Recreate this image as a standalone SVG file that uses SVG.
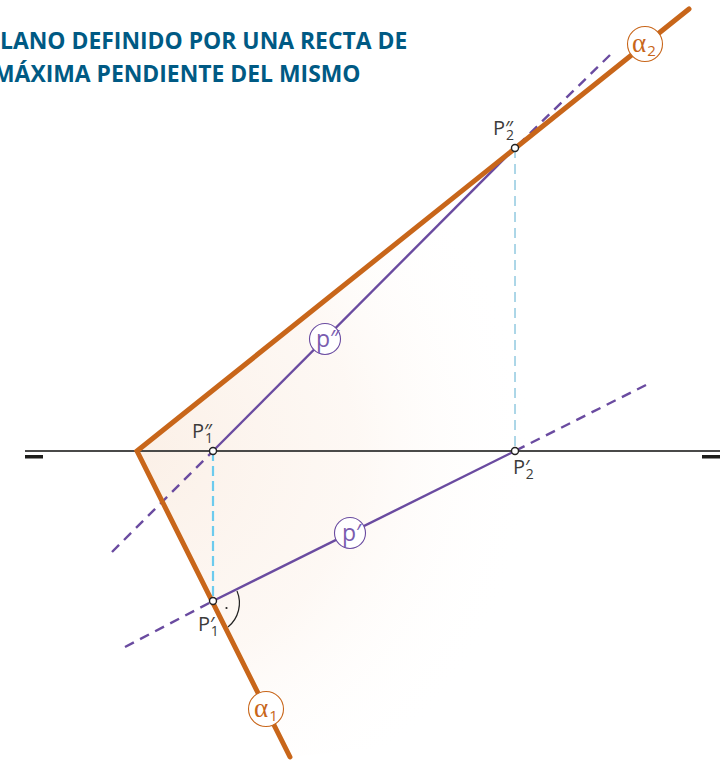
<svg xmlns="http://www.w3.org/2000/svg" width="727" height="760" viewBox="0 0 727 760">
<style>
text{font-family:"Open Sans","Noto Sans","Liberation Sans",sans-serif}
.title{font-size:22.9px;font-weight:700;fill:#005a84}
.lab{font-size:20px;fill:#3c3c3b}
.sub{font-size:14px}
.gr{font-family:"Liberation Serif",serif;font-size:27px;fill:#c8661a}
.grs{font-family:"Open Sans",sans-serif;font-size:15px}
.al{stroke:#c8661a;stroke-width:5;fill:none;stroke-linecap:round}
.pu{stroke:#6a4ba0;stroke-width:2.4;fill:none}
.da{stroke-dasharray:10 7}
.tag{fill:#fff;stroke:#6a4ba0;stroke-width:1.1}
.tago{fill:#fff;stroke:#c8661a;stroke-width:1.1}
.pt{fill:#fff;stroke:#222;stroke-width:1.4}
.pl{font-size:23px;fill:#7a5db0}
</style>
<defs>
<radialGradient id="sh" gradientUnits="userSpaceOnUse" cx="137" cy="451" r="400">
<stop offset="0" stop-color="#f9e8da" stop-opacity=".65"/>
<stop offset=".55" stop-color="#fbeee4" stop-opacity=".4"/>
<stop offset="1" stop-color="#fff" stop-opacity="0"/>
</radialGradient>
</defs>
<polygon id="plane-shade" points="137,451 515,148 600,400 460,740 290,757" fill="url(#sh)"/>
<g id="connectors">
<line x1="25" y1="451" x2="720" y2="451" stroke="#4a4a49" stroke-width="2.2"/>
<rect x="25" y="455" width="18" height="3.500" fill="#1d1d1b"/>
<rect x="702" y="455" width="18" height="3.500" fill="#1d1d1b"/>
<line x1="515" y1="148" x2="515" y2="451" stroke="#5aaed0" stroke-width="1" stroke-dasharray="10 6"/>
<line x1="213" y1="451" x2="213" y2="601" stroke="#6ccbee" stroke-width="2.200" stroke-dasharray="10 5"/>
<line class="pu" x1="213" y1="451" x2="515" y2="148"/>
<line class="pu da" x1="112" y1="552" x2="213" y2="451"/>
<line class="pu da" x1="610" y1="55" x2="515" y2="148"/>
<line class="pu" x1="213" y1="601" x2="515" y2="451"/>
<line class="pu da" x1="125" y1="647" x2="213" y2="601"/>
<line class="pu da" x1="646" y1="385" x2="515" y2="451"/>
<polyline class="al" points="689,9 137,451 290,757" stroke-linejoin="miter"/>
<path d="M237,591 A31,31 0 0 1 228,627" fill="none" stroke="#222" stroke-width="1.2"/>
<circle cx="226.500" cy="608" r="1.100" fill="#222"/>
</g>
<g id="title">
<text class="title" x="0" y="49">LANO DEFINIDO POR UNA RECTA DE</text>
<text class="title" x="-7" y="81.500">MÁXIMA PENDIENTE DEL MISMO</text>
</g>
<g id="node-alpha2"><circle class="tago" cx="645" cy="44" r="17.500"/><text class="gr" x="632" y="52">α<tspan class="grs" dx="1" dy="4">2</tspan></text></g>
<g id="node-alpha1"><circle class="tago" cx="266" cy="709" r="17.500"/><text class="gr" x="254" y="717">α<tspan class="grs" dx="1" dy="4">1</tspan></text></g>
<g id="node-p2"><circle class="tag" cx="325" cy="339" r="15.500"/><text class="pl" x="316" y="347">p″</text></g>
<g id="node-p1"><circle class="tag" cx="350" cy="533" r="15.500"/><text class="pl" x="342" y="541">p′</text></g>
<g id="node-P2pp"><circle class="pt" cx="515" cy="148" r="3.500"/><text class="lab" x="493" y="135">P″<tspan class="sub" dx="-7" dy="5">2</tspan></text></g>
<g id="node-P1pp"><circle class="pt" cx="213" cy="451" r="3.500"/><text class="lab" x="192" y="438">P″<tspan class="sub" dx="-7" dy="5">1</tspan></text></g>
<g id="node-P1p"><circle class="pt" cx="213" cy="601" r="3.500"/><text class="lab" x="198" y="631">P′<tspan class="sub" dx="-4" dy="5">1</tspan></text></g>
<g id="node-P2p"><circle class="pt" cx="515" cy="451" r="3.500"/><text class="lab" x="513" y="474">P′<tspan class="sub" dx="-4" dy="5">2</tspan></text></g>
</svg>
